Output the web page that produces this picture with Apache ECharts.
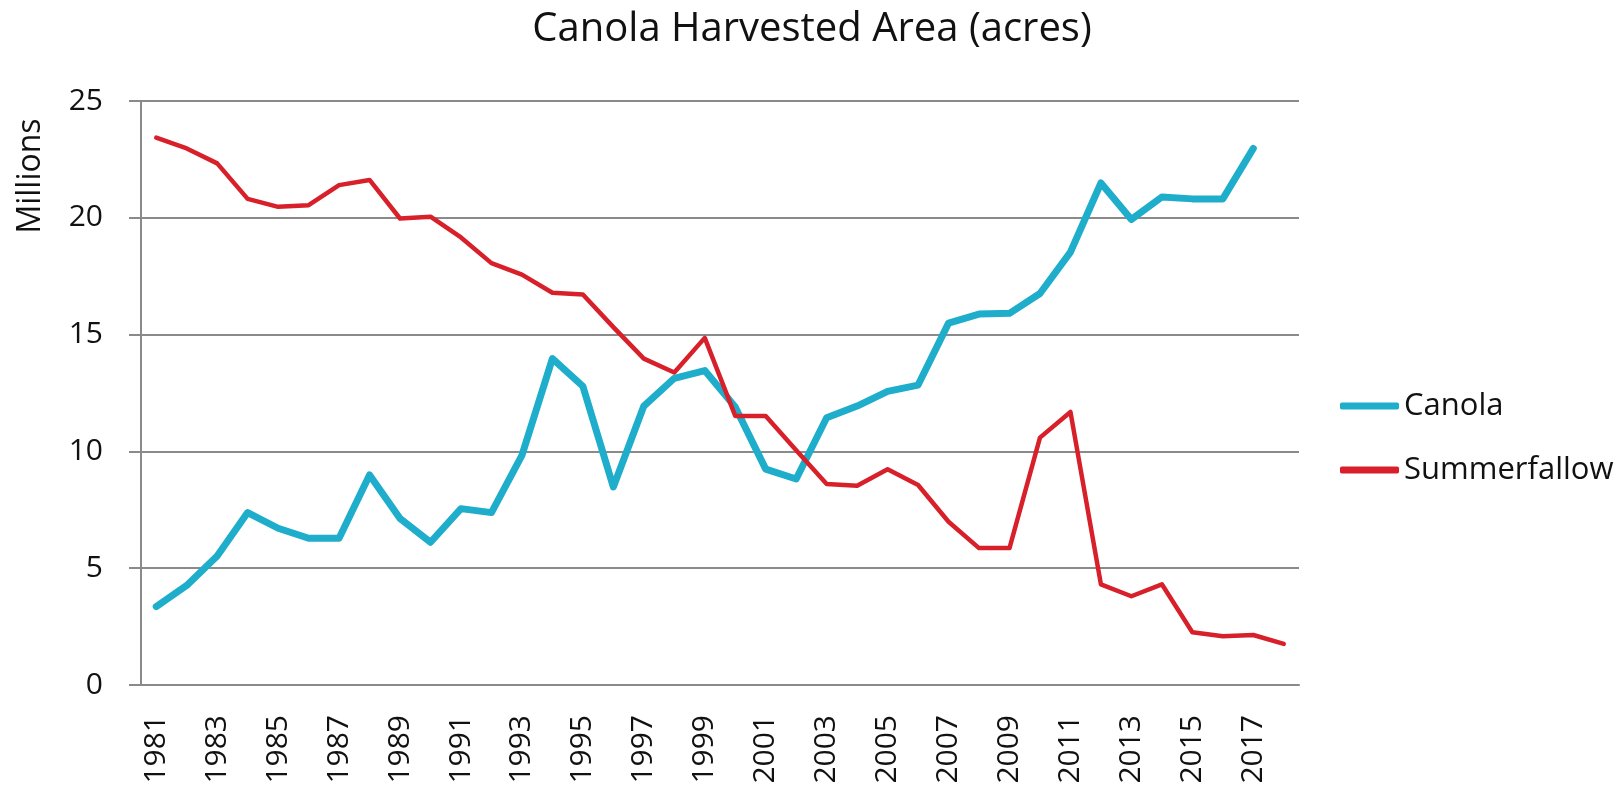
<!DOCTYPE html>
<html>
<head>
<meta charset="utf-8">
<title>Canola Harvested Area</title>
<script src="https://cdn.jsdelivr.net/npm/echarts@6/dist/echarts.min.js"></script>
<style>
    html, body { margin: 0; padding: 0; background: #fff; }
    #main { width: 1624px; height: 793px; }
</style>
</head>
<body>
<div id="main"></div>
<script>
var years = ['1981', '1982', '1983', '1984', '1985', '1986', '1987', '1988', '1989', '1990',
    '1991', '1992', '1993', '1994', '1995', '1996', '1997', '1998', '1999', '2000',
    '2001', '2002', '2003', '2004', '2005', '2006', '2007', '2008', '2009', '2010',
    '2011', '2012', '2013', '2014', '2015', '2016', '2017', '2018'];

// millions of acres
var canola = [3.36, 4.26, 5.52, 7.38, 6.71, 6.28, 6.28, 8.99, 7.13, 6.11,
    7.55, 7.38, 9.83, 13.97, 12.79, 8.48, 11.94, 13.13, 13.46, 11.9,
    9.24, 8.82, 11.44, 11.94, 12.57, 12.84, 15.49, 15.88, 15.91, 16.76,
    18.53, 21.49, 19.93, 20.89, 20.81, 20.81, 22.97, null];
var summerfallow = [23.43, 22.97, 22.33, 20.81, 20.47, 20.54, 21.4, 21.62, 19.97, 20.05,
    19.16, 18.06, 17.57, 16.79, 16.72, 15.32, 13.97, 13.38, 14.86, 11.52,
    11.52, 10.05, 8.6, 8.53, 9.24, 8.56, 6.99, 5.86, 5.86, 10.59,
    11.69, 4.31, 3.8, 4.31, 2.26, 2.09, 2.14, 1.76];

var yTicks = [0, 5, 10, 15, 20, 25];

var dom = document.getElementById('main');
var myChart = echarts.init(dom);
var fontName = '"Open Sans", sans-serif';

option = {
    backgroundColor: '#fff',
    animation: false,
    textStyle: { fontFamily: fontName },
    title: {
        text: 'Canola Harvested Area (acres)',
        left: 'center',
        top: 5,
        textStyle: { fontFamily: fontName, fontSize: 40, fontWeight: 'normal', color: '#111' }
    },
    graphic: [{
        type: 'text',
        x: 31,
        y: 176,
        rotation: Math.PI / 2,
        style: {
            text: 'Millions',
            font: '32px "Open Sans", sans-serif',
            fill: '#111',
            align: 'center',
            verticalAlign: 'middle'
        }
    }],
    legend: {
        orient: 'vertical',
        left: 1335,
        top: 379,
        icon: 'roundRect',
        itemWidth: 59,
        itemHeight: 7,
        itemGap: 20,
        textStyle: { fontFamily: fontName, fontSize: 31, color: '#111', lineHeight: 44 },
        data: ['Canola', 'Summerfallow']
    },
    grid: {
        left: 141,
        right: 325,
        top: 101,
        bottom: 108
    },
    xAxis: {
        type: 'category',
        data: years,
        boundaryGap: true,
        axisLine: { lineStyle: { color: '#8a8a8a', width: 2 } },
        axisTick: { interval: 1, length: 10, lineStyle: { color: '#8a8a8a', width: 2 } },
        axisLabel: {
            interval: 1,
            rotate: 90,
            margin: 30,
            fontSize: 30,
            color: '#111'
        }
    },
    yAxis: {
        type: 'value',
        min: 0,
        max: yTicks[yTicks.length - 1],
        interval: 5,
        axisLine: { show: true, lineStyle: { color: '#8a8a8a', width: 2 } },
        axisTick: { show: true, length: 12, lineStyle: { color: '#8a8a8a', width: 2 } },
        axisLabel: { margin: 38, fontSize: 30, color: '#111' },
        splitLine: { lineStyle: { color: '#8a8a8a', width: 2 } }
    },
    series: [
        {
            name: 'Canola',
            type: 'line',
            data: canola,
            symbol: 'none',
            color: '#1eadca',
            lineStyle: { width: 7, color: '#1eadca', join: 'round', cap: 'round' }
        },
        {
            name: 'Summerfallow',
            type: 'line',
            data: summerfallow,
            symbol: 'none',
            color: '#d8202b',
            lineStyle: { width: 4.5, color: '#d8202b', join: 'round', cap: 'round' }
        }
    ]
};

myChart.setOption(option);
</script>
</body>
</html>
